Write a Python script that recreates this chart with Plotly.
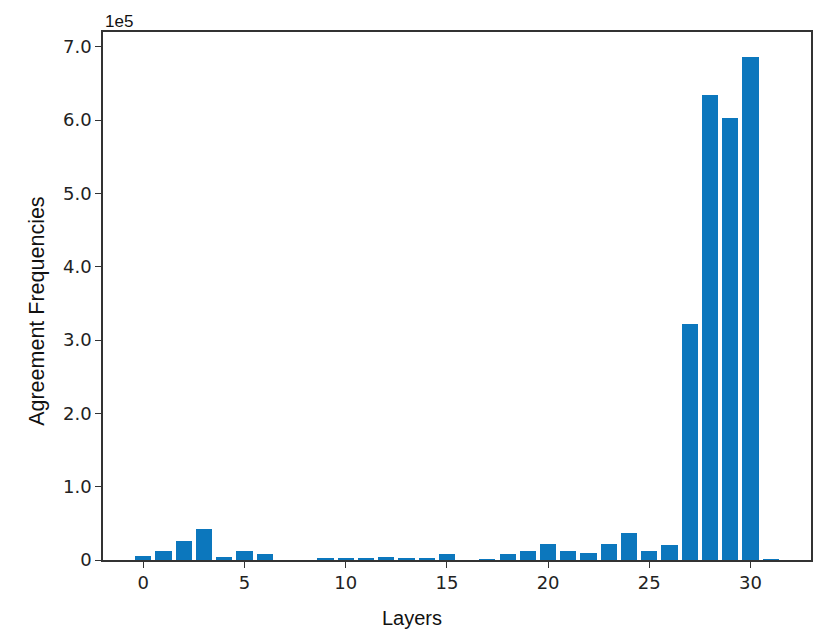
'''
    Bar chart of agreement frequencies per layer.
'''
import plotly.graph_objects as go

LAYERS = list(range(32))
FREQUENCIES = [5800, 12000, 26000, 42000, 4500, 12000, 8500, 0,
               0, 2000, 2000, 2000, 4000, 2000, 2000, 8500,
               0, 1000, 8500, 12000, 22000, 12000, 10000, 22000,
               37500, 12000, 20000, 322000, 634000, 603000, 686000, 800]

Y_TICK_VALUES = [0, 1e5, 2e5, 3e5, 4e5, 5e5, 6e5, 7e5]
Y_TICK_LABELS = ['0', '1.0', '2.0', '3.0', '4.0', '5.0', '6.0', '7.0']
X_TICK_VALUES = [0, 5, 10, 15, 20, 25, 30]

BAR_COLOR = '#0c77bd'
AXIS_COLOR = '#333333'
TICK_FONT = dict(family='DejaVu Sans', size=18, color='#222222')
LABEL_FONT = dict(family='Liberation Sans, Arial', size=20, color='#111111')

fig = go.Figure(go.Bar(
    x=LAYERS,
    y=FREQUENCIES,
    width=0.8,
    marker=dict(color=BAR_COLOR, line=dict(width=0)),
))

# the page body adds 8px around the figure, so the size is reduced to fit
fig.update_layout(
    width=814, height=626,
    margin=dict(l=95, r=9, t=24, b=74),
    paper_bgcolor='white',
    plot_bgcolor='white',
    showlegend=False,
    bargap=0,
    annotations=[
        dict(text='1e5', xref='paper', yref='paper',
             x=0, y=1, xanchor='left', yanchor='bottom', yshift=-1,
             showarrow=False,
             font=dict(family='Liberation Sans, Arial', size=17, color='#111111')),
        dict(text='Layers', xref='paper', yref='paper',
             x=0.437, y=0, xanchor='center', yanchor='middle', yshift=-58,
             showarrow=False, font=LABEL_FONT),
        dict(text='Agreement Frequencies', xref='paper', yref='paper',
             x=0, y=0.47, xanchor='center', yanchor='middle', xshift=-66,
             textangle=-90, showarrow=False,
             font=dict(LABEL_FONT, size=21.5)),
    ],
)

fig.update_xaxes(
    range=[-1.99, 32.99],
    tickvals=X_TICK_VALUES,
    ticks='outside', ticklen=6, tickwidth=1.2, tickcolor=AXIS_COLOR,
    tickfont=TICK_FONT,
    showgrid=False, zeroline=False,
    showline=True, linecolor=AXIS_COLOR, linewidth=1.5, mirror=True,
)

fig.update_yaxes(
    range=[0, 7.2e5],
    tickvals=Y_TICK_VALUES,
    ticktext=Y_TICK_LABELS,
    ticks='outside', ticklen=6, tickwidth=1.2, tickcolor=AXIS_COLOR,
    tickfont=TICK_FONT,
    showgrid=False, zeroline=False,
    showline=True, linecolor=AXIS_COLOR, linewidth=1.5, mirror=True,
)

fig.write_html('out.html')
